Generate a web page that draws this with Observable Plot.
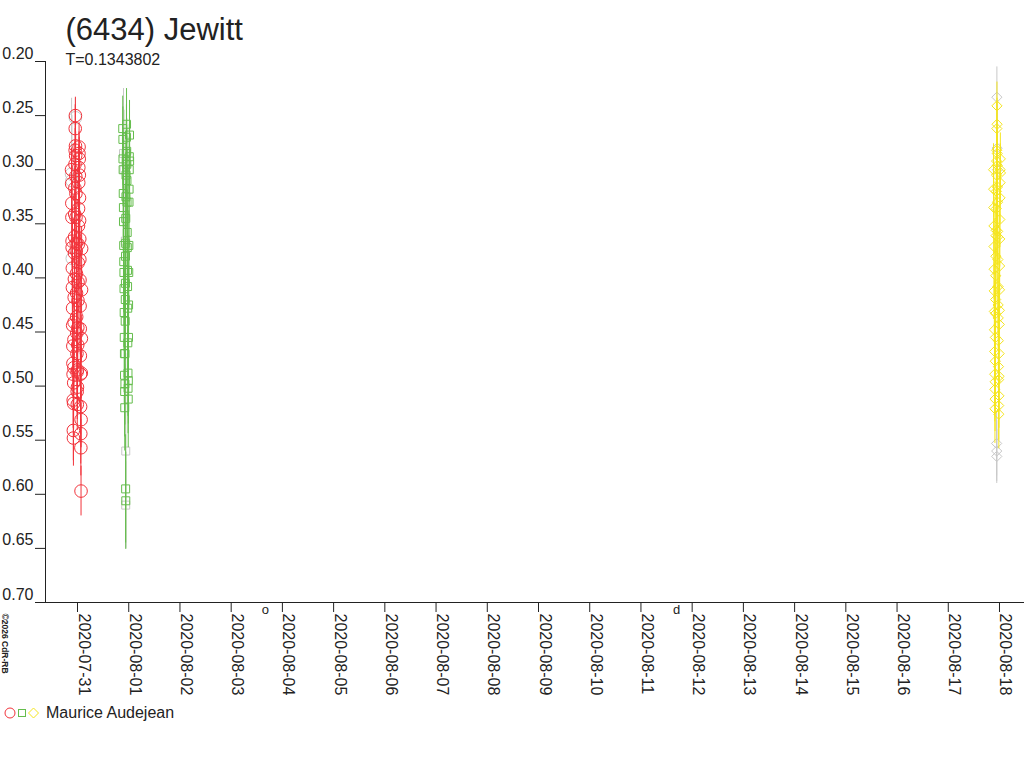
<!DOCTYPE html>
<html>
<head>
<meta charset="utf-8">
<script src="https://cdn.jsdelivr.net/npm/d3@7"></script>
<script src="https://cdn.jsdelivr.net/npm/@observablehq/plot@0.6"></script>
<style>
  html, body { margin: 0; padding: 0; background: #fff; }
  #wrap { position: relative; width: 1024px; height: 768px; overflow: hidden; font-family: "Liberation Sans", Arial, sans-serif; }
  #legend { position: absolute; left: 3px; top: 703px; height: 20px; display: flex; align-items: center; font-size: 16px; color: #222; }
  #legend svg { margin-right: 5px; }
</style>
</head>
<body>
<div id="wrap"></div>
<script>
// ---- text content ----
const titleText = "(6434) Jewitt";
const subtitleText = "T=0.1343802";
const observer = "Maurice Audejean";
const copyrightText = "©2026 CdR-RB";

// ---- axes ----
const yTicks = [0.20, 0.25, 0.30, 0.35, 0.40, 0.45, 0.50, 0.55, 0.60, 0.65, 0.70];
const dayTicks = ["2020-07-31","2020-08-01","2020-08-02","2020-08-03","2020-08-04","2020-08-05",
  "2020-08-06","2020-08-07","2020-08-08","2020-08-09","2020-08-10","2020-08-11","2020-08-12",
  "2020-08-13","2020-08-14","2020-08-15","2020-08-16","2020-08-17","2020-08-18"];
const xDomain = ["2020-07-30T09:00Z", "2020-08-18T11:43Z"];
const yDomain = [0.20, 0.70];

// ---- moon phase marks ----
const moonDates = ["2020-08-03T15:59Z", "2020-08-11T16:45Z"];
const moonGlyphs = ["o", "d"];

// ---- session colours / symbols ----
const sessionBase = ["2020-07-31T00:30Z", "2020-08-01T00:00Z", "2020-08-18T00:00Z"];
const sessionColor = ["#f2333b", "#65bd4d", "#f5e51e"];
const sessionSymbol = ["circle", "square", "diamond2"];
const sessionR = [6.3, 4.5, 4.6];
const grayColor = "#c8c8c8";

// ---- observations: [hours from session base, reduced magnitude, error] ----
const redObs = [
  [-3.31,0.300,0.020],[-3.25,0.313,0.022],[-3.17,0.331,0.020],[-3.13,0.344,0.024],[-3.05,0.366,0.022],
  [-3.01,0.372,0.020],[-2.93,0.391,0.024],[-2.89,0.409,0.022],[-2.81,0.428,0.024],[-2.77,0.444,0.022],
  [-2.69,0.463,0.026],[-2.65,0.479,0.024],[-2.57,0.489,0.022],[-2.53,0.513,0.026],[-2.45,0.541,0.028],
  [-2.41,0.548,0.026],[-2.33,0.516,0.024],[-2.29,0.497,0.022],[-2.21,0.483,0.024],[-2.17,0.457,0.022],
  [-2.09,0.441,0.024],[-2.05,0.418,0.022],[-1.97,0.401,0.020],[-1.93,0.377,0.022],[-1.85,0.362,0.020],
  [-1.81,0.341,0.022],[-1.73,0.317,0.020],[-1.69,0.295,0.022],[-1.61,0.282,0.020],[-1.57,0.262,0.022],
  [-1.49,0.250,0.017],[-1.45,0.278,0.020],[-1.37,0.287,0.022],[-1.33,0.306,0.020],[-1.25,0.322,0.022],
  [-1.21,0.344,0.020],[-1.13,0.368,0.024],[-1.09,0.375,0.022],[-1.01,0.396,0.024],[-0.97,0.414,0.022],
  [-0.89,0.436,0.024],[-0.85,0.451,0.022],[-0.77,0.470,0.026],[-0.73,0.487,0.024],[-0.65,0.505,0.026],
  [-0.61,0.517,0.024],[-0.53,0.501,0.026],[-0.49,0.485,0.024],[-0.41,0.462,0.022],[-0.37,0.446,0.024],
  [-0.29,0.421,0.022],[-0.25,0.404,0.020],[-0.17,0.386,0.022],[-0.13,0.369,0.020],[-0.05,0.352,0.022],
  [-0.01,0.336,0.020],[0.07,0.312,0.022],[0.11,0.298,0.020],[0.19,0.285,0.020],[0.23,0.279,0.022],
  [0.31,0.290,0.020],[0.35,0.305,0.022],[0.43,0.326,0.020],[0.47,0.347,0.022],[0.55,0.364,0.024],
  [0.59,0.383,0.022],[0.67,0.402,0.024],[0.71,0.426,0.022],[0.79,0.447,0.024],[0.83,0.472,0.026],
  [0.91,0.489,0.024],[0.95,0.519,0.026],[1.03,0.544,0.028],[1.07,0.557,0.026],[1.15,0.597,0.023],
  [1.19,0.531,0.026],[1.27,0.488,0.024],[1.31,0.456,0.022],[1.39,0.411,0.022],[1.43,0.373,0.020]
];
const greenObs = [
  [-2.81,0.262,0.030],[-2.73,0.272,0.030],[-2.70,0.290,0.028],[-2.62,0.300,0.030],[-2.58,0.322,0.032],
  [-2.49,0.335,0.030],[-2.46,0.348,0.034],[-2.37,0.370,0.030],[-2.34,0.385,0.036],[-2.26,0.395,0.032],
  [-2.22,0.410,0.034],[-2.14,0.432,0.036],[-2.10,0.455,0.040],[-2.02,0.470,0.038],[-1.98,0.490,0.040],
  [-1.91,0.505,0.042],[-1.87,0.520,0.040],[-1.79,0.498,0.038],[-1.75,0.470,0.036],[-1.67,0.440,0.036],
  [-1.63,0.420,0.034],[-1.55,0.405,0.034],[-1.51,0.380,0.032],[-1.43,0.368,0.030],[-1.39,0.345,0.032],
  [-1.31,0.325,0.030],[-1.27,0.305,0.030],[-1.19,0.292,0.028],[-1.15,0.285,0.030],[-1.07,0.270,0.030],
  [-1.03,0.258,0.033],[-0.95,0.283,0.030],[-0.91,0.295,0.032],[-0.83,0.310,0.030],[-0.79,0.330,0.034],
  [-0.71,0.358,0.032],[-0.67,0.372,0.034],[-0.59,0.393,0.036],[-0.55,0.408,0.034],[-0.47,0.428,0.038],
  [-0.43,0.460,0.040],[-0.35,0.488,0.040],[-0.31,0.502,0.042],[-0.23,0.512,0.045],[-0.19,0.495,0.040],
  [-0.11,0.455,0.038],[-0.07,0.425,0.036],[0.01,0.395,0.034],[0.05,0.370,0.032],[0.13,0.330,0.032],
  [0.17,0.318,0.030],[0.25,0.300,0.030],[0.29,0.288,0.030],[0.37,0.268,0.032],[0.41,0.292,0.030],
  [-1.45,0.595,0.050],[-1.38,0.606,0.045]
];
const yellowObs = [
  [-2.79,0.300,0.024],[-2.73,0.318,0.026],[-2.68,0.335,0.024],[-2.62,0.352,0.026],[-2.57,0.371,0.026],
  [-2.51,0.392,0.028],[-2.46,0.412,0.026],[-2.40,0.431,0.028],[-2.35,0.448,0.028],[-2.29,0.468,0.030],
  [-2.24,0.489,0.030],[-2.18,0.503,0.030],[-2.13,0.521,0.032],[-2.07,0.512,0.030],[-2.02,0.496,0.030],
  [-1.96,0.477,0.028],[-1.91,0.455,0.028],[-1.85,0.433,0.028],[-1.80,0.420,0.026],[-1.74,0.398,0.026],
  [-1.69,0.380,0.026],[-1.63,0.361,0.026],[-1.58,0.356,0.024],[-1.52,0.336,0.024],[-1.47,0.320,0.024],
  [-1.41,0.305,0.024],[-1.36,0.292,0.024],[-1.30,0.282,0.022],[-1.25,0.262,0.024],[-1.19,0.241,0.022],
  [-1.14,0.258,0.024],[-1.08,0.285,0.024],[-1.03,0.296,0.024],[-0.97,0.316,0.024],[-0.92,0.330,0.026],
  [-0.86,0.357,0.026],[-0.81,0.362,0.026],[-0.75,0.383,0.026],[-0.70,0.408,0.028],[-0.64,0.425,0.028],
  [-0.59,0.437,0.028],[-0.53,0.458,0.030],[-0.48,0.482,0.030],[-0.42,0.494,0.030],[-0.37,0.518,0.032],
  [-0.31,0.526,0.032],[-0.26,0.509,0.030],[-0.20,0.491,0.030],[-0.15,0.470,0.028],[-0.09,0.443,0.028],
  [-0.04,0.430,0.028],[0.02,0.411,0.026],[0.07,0.389,0.026],[0.13,0.364,0.026],[0.18,0.346,0.026],
  [0.24,0.326,0.024],[0.29,0.312,0.024],[0.35,0.300,0.024],[0.40,0.290,0.024],[0.46,0.303,0.024]
];
// points not retained in the fit: [session index, hours, magnitude, error]
const grayObs = [
  [0,-3.28,0.304,0.070],[0,-3.12,0.310,0.060],[0,-2.95,0.382,0.050],[0,-1.50,0.252,0.018],
  [1,-2.45,0.285,0.060],[1,-2.20,0.300,0.055],[1,-1.60,0.366,0.050],[1,-1.40,0.560,0.090],
  [1,-1.42,0.610,0.040],
  [2,-1.22,0.233,0.028],[2,-1.10,0.280,0.040],[2,-0.95,0.300,0.040],
  [2,-1.35,0.553,0.030],[2,-1.30,0.560,0.028],[2,-1.28,0.565,0.025]
];

// ---- build rows ----
const hour = 3600 * 1000;
function rowsOf(obs, s) {
  const base = new Date(sessionBase[s]).getTime();
  return obs.map(([h, mag, err]) => ({t: new Date(base + h * hour), mag, err, s}));
}
const colored = [...rowsOf(redObs, 0), ...rowsOf(greenObs, 1), ...rowsOf(yellowObs, 2)];
const grays = grayObs.map(([s, h, mag, err]) => ({t: new Date(new Date(sessionBase[s]).getTime() + h * hour), mag, err, s}));
const days = dayTicks.map(d => new Date(d + "T00:00Z"));
const moons = moonDates.map((d, i) => ({t: new Date(d), g: moonGlyphs[i]}));

const chart = Plot.plot({
  width: 1024,
  height: 768,
  marginLeft: 45,
  marginRight: 0,
  marginTop: 61,
  marginBottom: 166,
  style: {fontFamily: "Liberation Sans, Arial, sans-serif", background: "#fff", overflow: "visible"},
  x: {type: "utc", domain: xDomain.map(d => new Date(d)), label: null},
  y: {domain: yDomain, reverse: true, label: null},
  r: {type: "identity"},
  marks: [
    // error bars & points not retained
    Plot.ruleX(grays, {x: "t", y1: d => d.mag - d.err, y2: d => d.mag + d.err, stroke: grayColor, strokeWidth: 1}),
    Plot.dot(grays, {x: "t", y: "mag", symbol: d => sessionSymbol[d.s], r: d => sessionR[d.s], stroke: grayColor, fill: "none", strokeWidth: 1}),
    // error bars & points
    Plot.ruleX(colored, {x: "t", y1: d => d.mag - d.err, y2: d => d.mag + d.err, stroke: d => sessionColor[d.s], strokeWidth: 1}),
    Plot.dot(colored, {x: "t", y: "mag", symbol: d => sessionSymbol[d.s], r: d => sessionR[d.s], stroke: d => sessionColor[d.s], fill: "none", strokeWidth: 1}),
    // axes
    Plot.frame({anchor: "left", stroke: "#222"}),
    Plot.frame({anchor: "bottom", stroke: "#222"}),
    Plot.axisY({ticks: yTicks, tickSize: 10, tickFormat: () => "", stroke: "#222", label: null}),
    Plot.text(yTicks, {y: d => d, text: d => d.toFixed(2), frameAnchor: "left", textAnchor: "end", lineAnchor: "bottom", dx: -12, dy: -3, fontSize: 16, fill: "#222"}),
    Plot.axisX({ticks: days, tickSize: 10, tickFormat: () => "", stroke: "#222", label: null}),
    Plot.text(days, {x: d => d, text: d => d3.utcFormat("%Y-%m-%d")(d), frameAnchor: "bottom", rotate: 90, textAnchor: "start", lineAnchor: "bottom", dx: 1, dy: 11, fontSize: 16, fill: "#222"}),
    // moon phases
    Plot.text(moons, {x: "t", text: "g", frameAnchor: "bottom", dy: 7, lineAnchor: "middle", fontSize: 13, fill: "#222"}),
    // title, subtitle, copyright
    Plot.text([titleText], {frameAnchor: "top-left", dx: 20, dy: -22, textAnchor: "start", lineAnchor: "bottom", fontSize: 31, fill: "#222"}),
    Plot.text([subtitleText], {frameAnchor: "top-left", dx: 20, dy: 3, textAnchor: "start", lineAnchor: "bottom", fontSize: 16, fill: "#222"}),
    Plot.text([copyrightText], {frameAnchor: "bottom-left", dx: -44, dy: 11, rotate: 90, textAnchor: "start", lineAnchor: "bottom", fontSize: 8.5, fontWeight: "bold", fill: "#222"})
  ]
});

const wrap = document.getElementById("wrap");
chart.style.position = "absolute";
chart.style.left = "0px";
chart.style.top = "0px";
wrap.appendChild(chart);

// legend
const legend = document.createElement("div");
legend.id = "legend";
const ns = "http://www.w3.org/2000/svg";
const lsvg = document.createElementNS(ns, "svg");
lsvg.setAttribute("width", "38");
lsvg.setAttribute("height", "20");
const shapes = [
  `<circle cx="7" cy="10" r="5" fill="none" stroke="${sessionColor[0]}"/>`,
  `<rect x="15.5" y="6.5" width="7" height="7" fill="none" stroke="${sessionColor[1]}"/>`,
  `<polygon points="30.5,5 35.5,10 30.5,15 25.5,10" fill="none" stroke="${sessionColor[2]}"/>`
];
lsvg.innerHTML = shapes.join("");
legend.appendChild(lsvg);
const ltxt = document.createElement("span");
ltxt.textContent = observer;
legend.appendChild(ltxt);
wrap.appendChild(legend);
</script>
</body>
</html>
